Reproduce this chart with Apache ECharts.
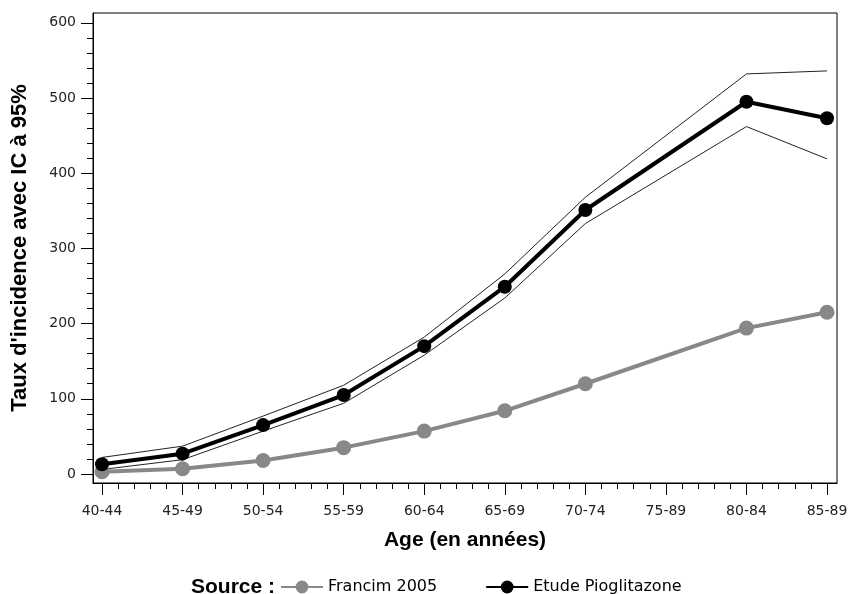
<!DOCTYPE html>
<html><head><meta charset="utf-8">
<script src="https://cdn.jsdelivr.net/npm/echarts@6/dist/echarts.min.js"></script>
<style>html,body{margin:0;padding:0;background:#fff}#c{width:849px;height:594px}</style>
</head><body><div id="c"></div>
<script>
const categories = ['40-44','45-49','50-54','55-59','60-64','65-69','70-74','75-89','80-84','85-89'];
const francim = [3, 7, 18, 35, 57, 84, 120, null, 194, 215];
const etude = [13, 27, 65, 105, 170, 249, 351, null, 495, 473];
const etudeUpper = [22, 37, 77, 118, 182, 266, 368, null, 532, 536];
const etudeLower = [6, 19, 57, 94, 158, 234, 333, null, 462, 419];
const yTicks = [0, 100, 200, 300, 400, 500, 600];

const pts = arr => arr.map((v, i) => v == null ? null : [i, v]).filter(p => p);
const xMajor = categories.map((c, i) => i);
const xMinor = [];
for (let i = 0; i < categories.length - 1; i++) for (let k = 1; k < 5; k++) xMinor.push(i + k / 5);
const yMinor = [];
for (let v = 0; v < 600; v += 20) if (v % 100 !== 0) yMinor.push(v);

const font = '"Liberation Sans", Arial, sans-serif';
const tickFont = '"DejaVu Sans", sans-serif';
const XMIN = -0.112, XMAX = 9.124, YMIN = -12, YMAX = 613;

const chart = echarts.init(document.getElementById('c'), null, {renderer: 'canvas'});
chart.setOption({
  animation: false,
  backgroundColor: '#fff',
  grid: {left: 93, right: 12, top: 13, bottom: 111, show: true, borderColor: '#000', borderWidth: 1,
         containLabel: false, outerBoundsMode: 'none'},
  title: {text: 'Source :', left: 186, top: 572, textStyle: {fontFamily: font, fontWeight: 'bold', fontSize: 21, color: '#000'}},
  legend: {
    data: ['Francim 2005', 'Etude Pioglitazone'],
    left: 275, top: 574, itemWidth: 42, itemHeight: 16, itemGap: 48,
    textStyle: {fontFamily: tickFont, fontSize: 16, color: '#000'}
  },
  xAxis: [
    {type: 'value', min: XMIN, max: XMAX, position: 'bottom',
     axisLine: {show: true, onZero: false, lineStyle: {color: '#000'}},
     axisTick: {show: true, customValues: xMajor, length: 12, lineStyle: {color: '#000'}},
     axisLabel: {customValues: xMajor, margin: 21, formatter: v => categories[Math.round(v)],
                 fontFamily: tickFont, fontSize: 14, color: '#222'},
     splitLine: {show: false},
     name: 'Age (en années)', nameLocation: 'middle', nameGap: 47,
     nameTextStyle: {fontFamily: font, fontWeight: 'bold', fontSize: 21, color: '#000'}},
    {type: 'value', min: XMIN, max: XMAX, position: 'bottom',
     axisLine: {show: false, onZero: false},
     axisTick: {show: true, customValues: xMinor, length: 6, lineStyle: {color: '#000'}},
     axisLabel: {show: false}, splitLine: {show: false}}
  ],
  yAxis: [
    {type: 'value', min: YMIN, max: YMAX, position: 'left',
     axisLine: {show: true, onZero: false, lineStyle: {color: '#000'}},
     axisTick: {show: true, customValues: yTicks, length: 12, lineStyle: {color: '#000'}},
     axisLabel: {customValues: yTicks, margin: 17, fontFamily: tickFont, fontSize: 14, color: '#222'},
     splitLine: {show: false},
     name: "Taux d'incidence avec IC à 95%", nameLocation: 'middle', nameGap: 62,
     nameTextStyle: {fontFamily: font, fontWeight: 'bold', fontSize: 22, color: '#000'}},
    {type: 'value', min: YMIN, max: YMAX, position: 'left',
     axisLine: {show: false, onZero: false},
     axisTick: {show: true, customValues: yMinor, length: 6, lineStyle: {color: '#000'}},
     axisLabel: {show: false}, splitLine: {show: false}}
  ],
  series: [
    {name: 'IC sup', type: 'line', data: pts(etudeUpper), symbol: 'none', silent: true,
     lineStyle: {color: '#222', width: 1}, z: 1},
    {name: 'IC inf', type: 'line', data: pts(etudeLower), symbol: 'none', silent: true,
     lineStyle: {color: '#222', width: 1}, z: 1},
    {name: 'Francim 2005', type: 'line', data: pts(francim), symbol: 'circle', symbolSize: 15,
     itemStyle: {color: '#888888'}, lineStyle: {color: '#888888', width: 4}, z: 2},
    {name: 'Etude Pioglitazone', type: 'line', data: pts(etude), symbol: 'circle', symbolSize: 14,
     itemStyle: {color: '#000'}, lineStyle: {color: '#000', width: 4}, z: 3}
  ]
});
</script></body></html>
